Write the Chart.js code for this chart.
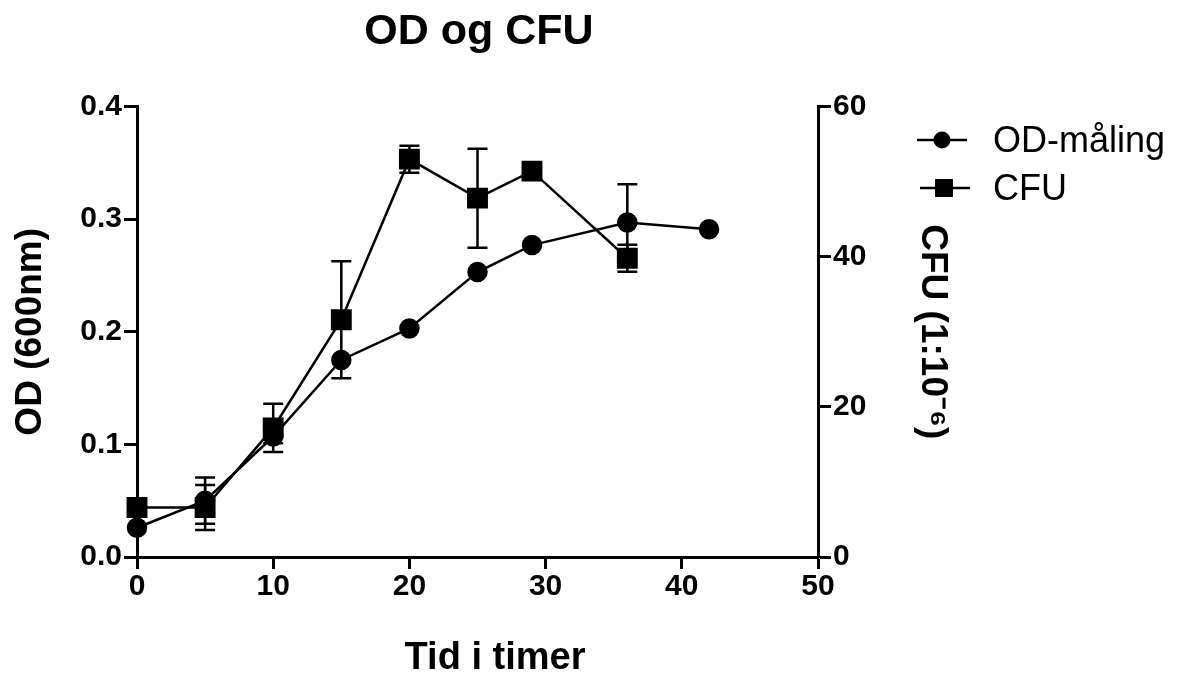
<!DOCTYPE html>
<html>
<head>
<meta charset="utf-8">
<script src="https://cdn.jsdelivr.net/npm/chart.js@4.4.1/dist/chart.umd.min.js"></script>
<style>
  html, body { margin: 0; padding: 0; background: #fff; }
  #wrap { width: 1177px; height: 678px; }
</style>
</head>
<body>
<div id="wrap"><canvas id="myChart" width="1177" height="678"></canvas></div>
<script>
// timer og målinger
const odHours = [0, 5, 10, 15, 20, 25, 29, 36, 42]
const odValues = [0.026, 0.050, 0.107, 0.175, 0.203, 0.253, 0.277, 0.297, 0.291]
const odSd = [0, 0.0205, 0.006, 0, 0, 0, 0, 0.034, 0]

const cfuHours = [0, 5, 10, 15, 20, 25, 29, 36]
const cfuValues = [6.6, 6.6, 17.2, 31.6, 53.0, 47.8, 51.4, 39.8]
const cfuSd = [0, 3.0, 3.2, 7.8, 1.8, 6.6, 0, 1.8]

const xTicks = [0, 10, 20, 30, 40, 50]
const odTicks = [0, 0.1, 0.2, 0.3, 0.4]
const cfuTicks = [0, 20, 40, 60]

const FONT = "'Liberation Sans', Arial, Helvetica, sans-serif"

const toPoints = (xs, ys) => xs.map((x, i) => ({ x: x, y: ys[i] }))

// error bars drawn under the markers
const errorBars = {
    id: 'errorBars',
    beforeDatasetsDraw(chart) {
        const ctx = chart.ctx
        chart.data.datasets.forEach((ds, i) => {
            const meta = chart.getDatasetMeta(i)
            const xs = chart.scales[meta.xAxisID]
            const ys = chart.scales[meta.yAxisID]
            ctx.save()
            ctx.strokeStyle = '#000'
            ctx.lineWidth = 2.5
            ds.data.forEach((p, j) => {
                const e = ds.errors[j]
                if (!e) return
                const x = xs.getPixelForValue(p.x)
                const top = ys.getPixelForValue(p.y + e)
                const bot = ys.getPixelForValue(p.y - e)
                ctx.beginPath()
                ctx.moveTo(x, top); ctx.lineTo(x, bot)
                ctx.moveTo(x - 10, top); ctx.lineTo(x + 10, top)
                ctx.moveTo(x - 10, bot); ctx.lineTo(x + 10, bot)
                ctx.stroke()
            })
            ctx.restore()
        })
    }
}

// legend at the right + x axis title
const extras = {
    id: 'extras',
    afterDraw(chart) {
        const ctx = chart.ctx
        ctx.save()
        ctx.fillStyle = '#000'
        ctx.strokeStyle = '#000'
        ctx.lineWidth = 2.5

        ctx.beginPath(); ctx.moveTo(917, 140); ctx.lineTo(967, 140); ctx.stroke()
        ctx.beginPath(); ctx.arc(942, 140, 8.5, 0, Math.PI * 2); ctx.fill()
        ctx.beginPath(); ctx.moveTo(920, 188); ctx.lineTo(970, 188); ctx.stroke()
        ctx.fillRect(935, 179, 18, 18)

        ctx.font = `36px ${FONT}`
        ctx.textAlign = 'left'
        ctx.textBaseline = 'middle'
        ctx.fillText(chart.data.datasets[0].label, 993, 142)
        ctx.fillText(chart.data.datasets[1].label, 993, 190)

        ctx.font = `bold 38px ${FONT}`
        ctx.textAlign = 'center'
        ctx.fillText('Tid i timer', 495, 659)
        ctx.restore()
    }
}

const tickFont = { family: FONT, size: 30, weight: 'bold' }
const axisTitleFont = { family: FONT, size: 37, weight: 'bold', lineHeight: 1.2 }

const data = {
    datasets: [
        {
            label: 'OD-måling',
            data: toPoints(odHours, odValues),
            errors: odSd,
            yAxisID: 'y',
            borderColor: '#000',
            backgroundColor: '#000',
            borderWidth: 2.5,
            pointStyle: 'circle',
            pointRadius: 9,
            pointHoverRadius: 9,
            clip: false
        },
        {
            label: 'CFU',
            data: toPoints(cfuHours, cfuValues),
            errors: cfuSd,
            yAxisID: 'y1',
            borderColor: '#000',
            backgroundColor: '#000',
            borderWidth: 2.5,
            pointStyle: 'rect',
            pointRadius: 13,
            pointHoverRadius: 13,
            clip: false
        }
    ]
}

const config = {
    type: 'line',
    data: data,
    plugins: [errorBars, extras],
    options: {
        responsive: false,
        animation: false,
        layout: { padding: { left: 0, right: 219, top: 0, bottom: 0 } },
        scales: {
            x: {
                type: 'linear',
                min: 0,
                max: 50,
                afterFit: s => { s.height = 121 },
                afterBuildTicks: s => { s.ticks = xTicks.map(v => ({ value: v })) },
                border: { display: true, color: '#000', width: 3 },
                grid: { drawOnChartArea: false, drawTicks: true, tickLength: 12, tickWidth: 3, tickColor: '#000' },
                ticks: { color: '#000', font: tickFont, padding: 0, maxRotation: 0 }
            },
            y: {
                type: 'linear',
                position: 'left',
                min: 0,
                max: 0.4,
                afterFit: s => { s.width = 137 },
                afterBuildTicks: s => { s.ticks = odTicks.map(v => ({ value: v })) },
                border: { display: true, color: '#000', width: 3 },
                grid: { drawOnChartArea: false, drawTicks: true, tickLength: 13, tickWidth: 3, tickColor: '#000' },
                ticks: { color: '#000', font: tickFont, padding: 2, callback: v => v.toFixed(1) },
                title: { display: true, text: 'OD (600nm)', color: '#000', font: axisTitleFont, padding: { top: 9, bottom: 0 } }
            },
            y1: {
                type: 'linear',
                position: 'right',
                min: 0,
                max: 60,
                afterFit: s => { s.width = 140 },
                afterBuildTicks: s => { s.ticks = cfuTicks.map(v => ({ value: v })) },
                border: { display: true, color: '#000', width: 3 },
                grid: { drawOnChartArea: false, drawTicks: true, tickLength: 13, tickWidth: 3, tickColor: '#000' },
                ticks: { color: '#000', font: tickFont, padding: 2 },
                title: { display: true, text: 'CFU (1:10⁻⁶)', color: '#000', font: axisTitleFont, padding: { top: 4, bottom: 0 } }
            }
        },
        plugins: {
            legend: { display: false },
            tooltip: { enabled: false },
            title: {
                display: true,
                text: 'OD og CFU',
                color: '#000',
                font: { family: FONT, size: 43, weight: 'bold', lineHeight: 1.2 },
                padding: { top: 6, bottom: 49 }
            }
        }
    }
}

const myChart = new Chart(document.getElementById('myChart'), config)
</script>
</body>
</html>
